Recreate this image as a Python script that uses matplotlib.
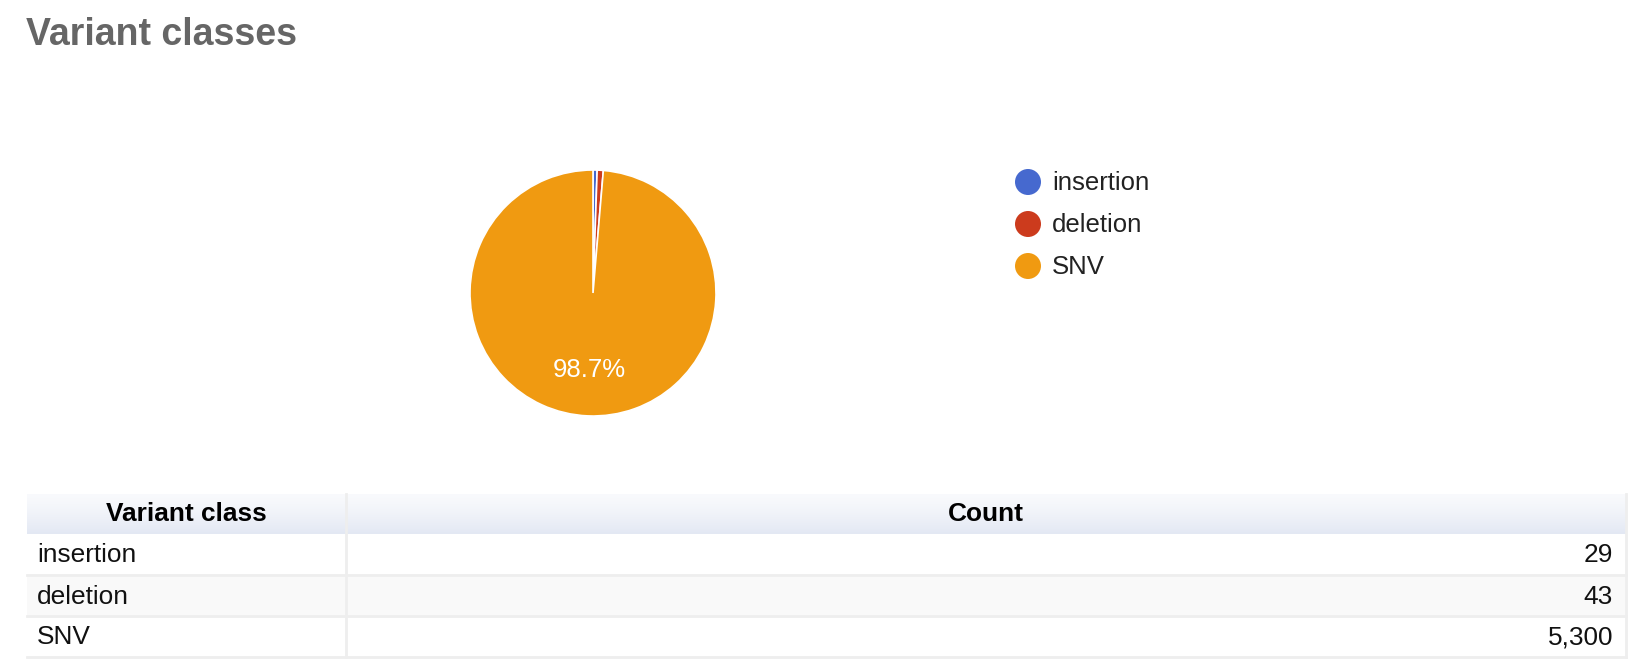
import matplotlib
matplotlib.use('Agg')
import matplotlib.pyplot as plt
from matplotlib.patches import Rectangle, Circle
import numpy as np

plt.rcParams['font.family'] = ['Liberation Sans', 'DejaVu Sans']

# data
categories = ['insertion', 'deletion', 'SNV']
counts = [29, 43, 5300]
colors = ['#4669cf', '#cc3b1d', '#f09a11']
title = 'Variant classes'
col_headers = ['Variant class', 'Count']

W, H = 1644, 664
fig = plt.figure(figsize=(W / 100, H / 100), dpi=100)

# full-figure axes in pixel coords for title, legend and table
bg = fig.add_axes([0, 0, 1, 1])
bg.set_xlim(0, W)
bg.set_ylim(H, 0)
bg.axis('off')

bg.text(26, 45, title, fontsize=27, fontweight='bold', color='#666666',
        va='baseline', ha='left')

# pie, centred at (593, 293) px with radius 123 px
cx, cy, r = 593, 293, 123
pie_ax = fig.add_axes([(cx - r) / W, (H - cy - r) / H, 2 * r / W, 2 * r / H])


def pct_label(p):
    return f'{p:.1f}%' if p > 5 else ''


wedges, texts, autotexts = pie_ax.pie(
    counts, colors=colors, startangle=90, counterclock=False, radius=1,
    autopct=pct_label, pctdistance=0.63,
    wedgeprops=dict(edgecolor='white', linewidth=1.2),
    textprops=dict(color='white', fontsize=18.5))
# pie() resets the limits to +-1.25, put them back so the disc fills the box
pie_ax.set_xlim(-1, 1)
pie_ax.set_ylim(-1, 1)
pie_ax.axis('off')

# legend
leg_x, leg_y0, leg_dy = 1028, 182, 42
for i, (cat, col) in enumerate(zip(categories, colors)):
    y = leg_y0 + i * leg_dy
    bg.add_patch(Circle((leg_x, y), 13, color=col, lw=0))
    bg.text(1052, y + 1, cat, fontsize=18.5, color='#222222', va='center', ha='left')

# table
tx0, tx1, tdiv = 27, 1626, 346
head_top, head_bot = 494, 534
row_h = 41
line_col = '#eeeeee'

grad = np.linspace(0, 1, 50).reshape(-1, 1)
top_rgb = np.array([0.975, 0.98, 0.99])
bot_rgb = np.array([0.89, 0.91, 0.955])
grad_img = top_rgb + (bot_rgb - top_rgb) * grad[..., None] ** 1.3
grad_img = np.repeat(grad_img, 2, axis=1)
bg.imshow(grad_img, extent=[tx0, tx1, head_bot, head_top], aspect='auto',
          interpolation='bilinear', zorder=1)
bg.set_xlim(0, W)
bg.set_ylim(H, 0)

bg.text((tx0 + tdiv) / 2, (head_top + head_bot) / 2, col_headers[0],
        fontsize=18.9, fontweight='bold', ha='center', va='center', zorder=3)
bg.text((tdiv + tx1) / 2, (head_top + head_bot) / 2, col_headers[1],
        fontsize=18.9, fontweight='bold', ha='center', va='center', zorder=3)

for i, (cat, n) in enumerate(zip(categories, counts)):
    y0 = head_bot + i * row_h
    fill = '#f9f9f9' if i % 2 == 1 else 'white'
    bg.add_patch(Rectangle((tx0, y0), tx1 - tx0, row_h, facecolor=fill,
                           edgecolor='none', zorder=1))
    bg.plot([tx0, tx1], [y0 + row_h, y0 + row_h], color=line_col, lw=2, zorder=2)
    bg.text(37, y0 + row_h / 2 + 1, cat, fontsize=18.9, color='#111111',
            ha='left', va='center', zorder=3)
    bg.text(tx1 - 13, y0 + row_h / 2 + 1, f'{n:,}', fontsize=18.9, color='#111111',
            ha='right', va='center', zorder=3)

table_bot = head_bot + len(categories) * row_h
bg.plot([tdiv, tdiv], [head_top, table_bot], color=line_col, lw=2, zorder=2)
bg.plot([tx1, tx1], [head_top, table_bot], color=line_col, lw=2, zorder=2)

fig.savefig('out.png', dpi=100)
